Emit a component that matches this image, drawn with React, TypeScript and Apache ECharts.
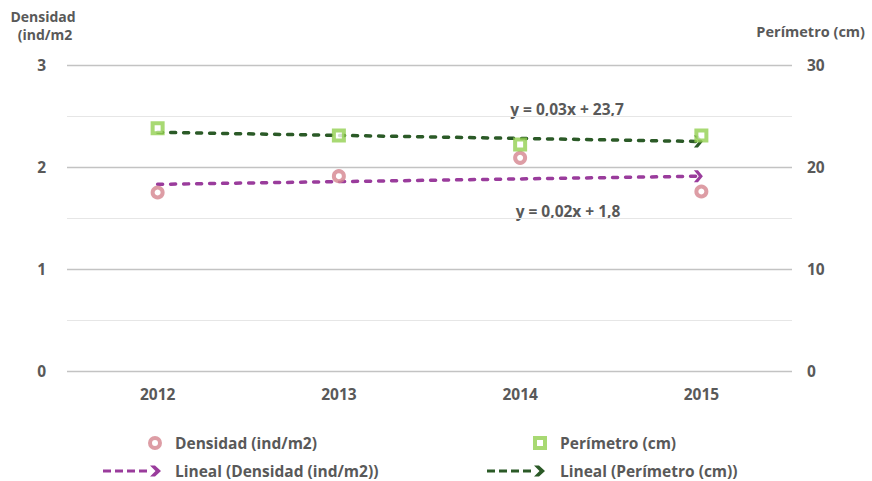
import React, { useEffect, useRef } from "react";
import * as echarts from "echarts";

const years = ["2012", "2013", "2014", "2015"];
const densidad = [1.75, 1.91, 2.09, 1.76];
const perimetro = [23.8, 23.1, 22.2, 23.1];
const trendDensidad = [1.83, null, null, 1.91];
const trendPerimetro = [23.4, null, null, 22.5];
const leftTicks = { min: 0, max: 3, interval: 1 };
const rightTicks = { min: 0, max: 30, interval: 10 };
const eqPerimetro = "y = 0,03x + 23,7";
const eqDensidad = "y = 0,02x + 1,8";

const FONT = "'Open Sans', 'DejaVu Sans', sans-serif";
const TXT = "#595959";
const PURPLE = "#9a3c9c";
const DKGREEN = "#2b5a27";
const PINK = "#d4848f";
const LTGREEN = "#92d050";

const ARROW = "path://M0,0 L5,0 L11,6 L5,12 L0,12 L6,6 Z";
const LEG_LINE =
  "path://M0,4 L8,4 L8,7 L0,7 Z M12,4 L20,4 L20,7 L12,7 Z M24,4 L32,4 L32,7 L24,7 Z M36,4 L44,4 L44,7 L36,7 Z M47,0 L52,0 L58,5.5 L52,11 L47,11 L52.5,5.5 Z";
const LEG_RING =
  "path://M7,0 A7,7 0 1,1 7,14 A7,7 0 1,1 7,0 Z M7,4 A3,3 0 1,0 7,10 A3,3 0 1,0 7,4 Z";
const LEG_SQUARE = "path://M0,0 L14,0 L14,14 L0,14 Z M4,4 L4,10 L10,10 L10,4 Z";

function trendData(arr: (number | null)[]) {
  const last = arr.length - 1;
  return arr.map((v, i) => {
    if (v === null) return "-";
    if (i === last)
      return { value: v, symbol: ARROW, symbolSize: [9, 12], symbolOffset: [-3, 0] };
    return { value: v, symbol: "none" };
  });
}

export default function App() {
  const ref = useRef<HTMLDivElement>(null);
  useEffect(() => {
    if (!ref.current) return;
    const chart = echarts.init(ref.current, null, { renderer: "svg" });
    const legendText = { color: TXT, fontFamily: FONT, fontWeight: "bold", fontSize: 15.5 };
    const axisText = { color: TXT, fontFamily: FONT, fontWeight: "bold", fontSize: 15.5 };
    chart.setOption({
      animation: false,
      grid: { left: 67, right: 80, top: 65, bottom: 110 },
      xAxis: {
        type: "category",
        data: years,
        boundaryGap: true,
        axisLine: { show: false },
        axisTick: { show: false },
        axisLabel: { ...axisText, margin: 15 },
      },
      yAxis: [
        {
          type: "value",
          ...leftTicks,
          axisLine: { show: false },
          axisTick: { show: false },
          axisLabel: { ...axisText, margin: 21 },
          splitLine: { lineStyle: { color: "#c3c3c3", width: 1.3 } },
          minorTick: { show: false, splitNumber: 2 },
          minorSplitLine: { show: true, lineStyle: { color: "#e6e6e6", width: 1.2 } },
        },
        {
          type: "value",
          ...rightTicks,
          position: "right",
          axisLine: { show: false },
          axisTick: { show: false },
          splitLine: { show: false },
          axisLabel: { ...axisText, margin: 15 },
        },
      ],
      legend: [
        {
          left: 143, top: 430, itemWidth: 14, itemHeight: 14,
          data: [{ name: "Densidad (ind/m2)", icon: LEG_RING, itemStyle: { color: PINK, borderWidth: 0 } }],
          textStyle: { ...legendText, padding: [0, 0, 0, 8] },
        },
        {
          left: 528, top: 430, itemWidth: 14, itemHeight: 14,
          data: [{ name: "Perímetro (cm)", icon: LEG_SQUARE, itemStyle: { color: LTGREEN, borderWidth: 0 } }],
          textStyle: { ...legendText, padding: [0, 0, 0, 8] },
        },
        {
          left: 98, top: 458, itemWidth: 58, itemHeight: 11,
          data: [{ name: "Lineal (Densidad (ind/m2))", icon: LEG_LINE }],
          textStyle: { ...legendText, padding: [0, 0, 0, 9] },
        },
        {
          left: 482, top: 458, itemWidth: 58, itemHeight: 11,
          data: [{ name: "Lineal (Perímetro (cm))", icon: LEG_LINE }],
          textStyle: { ...legendText, padding: [0, 0, 0, 10] },
        },
      ],
      graphic: [
        {
          type: "text", x: 43, y: 16,
          style: {
            text: "Densidad", fill: TXT, font: `bold 14px ${FONT}`,
            align: "center", verticalAlign: "middle", lineHeight: 14,
          },
        },
        {
          type: "text", x: 45, y: 34,
          style: {
            text: "(ind/m2", fill: TXT, font: `bold 14px ${FONT}`,
            align: "center", verticalAlign: "middle", lineHeight: 14,
          },
        },
        {
          type: "text", right: 7, top: 24,
          style: { text: "Perímetro (cm)", fill: TXT, font: `bold 14.5px ${FONT}` },
        },
        {
          type: "text", x: 567, y: 109,
          style: { text: eqPerimetro, fill: TXT, font: `bold 15.5px ${FONT}`, align: "center", verticalAlign: "middle" },
        },
        {
          type: "text", x: 568, y: 211,
          style: { text: eqDensidad, fill: TXT, font: `bold 15.5px ${FONT}`, align: "center", verticalAlign: "middle" },
        },
      ],
      series: [
        {
          name: "Lineal (Densidad (ind/m2))",
          type: "line",
          yAxisIndex: 0,
          data: trendData(trendDensidad),
          connectNulls: true,
          lineStyle: { color: PURPLE, width: 3.5, type: [5, 8], cap: "round" },
          itemStyle: { color: PURPLE },
          z: 2,
        },
        {
          name: "Lineal (Perímetro (cm))",
          type: "line",
          yAxisIndex: 1,
          data: trendData(trendPerimetro),
          connectNulls: true,
          lineStyle: { color: DKGREEN, width: 3.5, type: [5, 8], cap: "round" },
          itemStyle: { color: DKGREEN },
          z: 2,
        },
        {
          name: "Densidad (ind/m2)",
          type: "scatter",
          yAxisIndex: 0,
          data: densidad,
          symbol: "circle",
          symbolSize: 10,
          itemStyle: { color: "#ffffff", borderColor: PINK, borderWidth: 4 },
          z: 3,
        },
        {
          name: "Perímetro (cm)",
          type: "scatter",
          yAxisIndex: 1,
          data: perimetro,
          symbol: "rect",
          symbolSize: 10,
          itemStyle: { color: "#ffffff", borderColor: LTGREEN, borderWidth: 4 },
          z: 3,
        },
      ],
    });
    return () => chart.dispose();
  }, []);
  return (
    <div
      ref={ref}
      style={{ position: "fixed", left: 0, top: 0, width: 872, height: 481, background: "#fff" }}
    />
  );
}
